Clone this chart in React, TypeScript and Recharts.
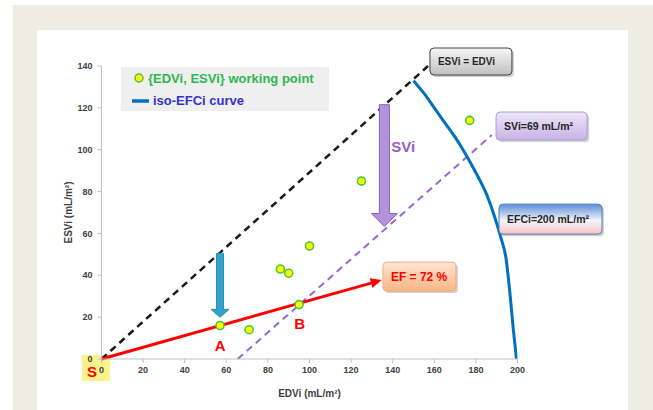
import React from "react";
import {
  ComposedChart,
  XAxis,
  YAxis,
  Line,
  Scatter,
  ReferenceLine,
  ReferenceDot,
  Label,
} from "recharts";

// working points {EDVi, ESVi}
const edvi = [57, 71, 95, 86, 90, 100, 125, 177];
const esvi = [16, 14, 26, 43, 41, 54, 85, 114];

// iso-EFCi curve (EFCi = 200 mL/m²)
const isoEdvi = [150, 155, 160, 165, 170, 175, 180, 185, 189, 192, 194.5, 196.5, 198, 199.5];
const isoEsvi = [133, 127, 120, 113, 106, 98, 89, 79, 68, 58, 48, 30, 14, 0];

const xTicks = [0, 20, 40, 60, 80, 100, 120, 140, 160, 180, 200];
const yTicks = [0, 20, 40, 60, 80, 100, 120, 140];

// straight guides, as [EDVi, ESVi] end points
const identityLine = [[0, 0], [157, 140]];
const sviLine = [[65.5, 0], [187.6, 107]];
const efLine = [[0, 0], [134.7, 37.7]];
const dropArrow = [[57, 50.5], [57, 19.9]];
const sviArrow = [[136, 121.5], [136, 63.3]];

const points = edvi.map((x, i) => ({ x, y: esvi[i] }));
const isoCurve = isoEdvi.map((x, i) => ({ x, y: isoEsvi[i] }));
const seg = (p: number[][]) => [
  { x: p[0][0], y: p[0][1] },
  { x: p[1][0], y: p[1][1] },
];

const FONT = '"Liberation Sans Narrow", "Liberation Sans", Arial, sans-serif';

const blockArrow = (fill: string, stroke: string, shaft: number, head: number, headLen: number) =>
  (p: any) => {
    const { x1, y1, y2 } = p;
    const hs = shaft / 2;
    const hh = head / 2;
    const yh = y2 - headLen;
    const pts = [
      [x1 - hs, y1], [x1 + hs, y1], [x1 + hs, yh], [x1 + hh, yh],
      [x1, y2], [x1 - hh, yh], [x1 - hs, yh],
    ].map((q) => q.join(",")).join(" ");
    return <polygon points={pts} fill={fill} stroke={stroke} strokeWidth={1} />;
  };

const redArrow = (p: any) => {
  const { x1, y1, x2, y2 } = p;
  const a = Math.atan2(y2 - y1, x2 - x1);
  const len = 11;
  const w = 5;
  const bx = x2 - len * Math.cos(a);
  const by = y2 - len * Math.sin(a);
  const nx = -Math.sin(a) * w;
  const ny = Math.cos(a) * w;
  return (
    <g>
      <line x1={x1} y1={y1} x2={bx} y2={by} stroke="#FF0000" strokeWidth={3} />
      <polygon points={`${x2},${y2} ${bx + nx},${by + ny} ${bx - nx},${by - ny}`} fill="#FF0000" />
    </g>
  );
};

const callout = (text: string, w: number, h: number, grad: string, stroke: string, color: string, size: number) =>
  (p: any) => {
    const { cx, cy } = p;
    return (
      <g>
        <rect x={cx + 2} y={cy + 2} width={w} height={h} rx={4} fill="rgba(0,0,0,0.18)" />
        <rect x={cx} y={cy} width={w} height={h} rx={4} fill={`url(#${grad})`} stroke={stroke} strokeWidth={1} />
        <text x={cx + 8} y={cy + h / 2} dy="0.35em" fontFamily={FONT} fontWeight="bold" fontSize={size} fill={color}>
          {text}
        </text>
      </g>
    );
  };

const word = (text: string, color: string, size: number) => (p: any) => (
  <text x={p.cx} y={p.cy} dy="0.35em" textAnchor="middle" fontFamily={FONT} fontWeight="bold" fontSize={size} fill={color}>
    {text}
  </text>
);

const LegendBox = () => (
  <svg width={208} height={44} style={{ position: "absolute", left: 121, top: 67, background: "#EFEFEF" }}>
    <circle cx={18} cy={11} r={4} fill="#FFFF00" stroke="#4CC43C" strokeWidth={1.5} />
    <text x={27} y={11} dy="0.35em" fill="#2DB84D" fontFamily={FONT} fontWeight="bold" fontSize={13}>
      {"{EDVi, ESVi} working point"}
    </text>
    <line x1={11} y1={34} x2={28} y2={34} stroke="#0070C0" strokeWidth={3.5} />
    <text x={32} y={33} dy="0.35em" fill="#3333CC" fontFamily={FONT} fontWeight="bold" fontSize={13}>
      iso-EFCi curve
    </text>
  </svg>
);

const tickStyle = { fontSize: 9, fontWeight: "bold" as const, fill: "#404040", fontFamily: FONT };

export default function App() {
  return (
    <div style={{ position: "absolute", left: 0, top: 0, width: 653, height: 410, background: "#FFFFFF", overflow: "hidden" }}>
      <div style={{ position: "absolute", left: 13, top: 5, width: 640, height: 405, background: "#EDEDE3" }} />
      <div style={{ position: "absolute", left: 37, top: 30, width: 591, height: 380, background: "#FFFFFF" }} />
      <div style={{ position: "absolute", left: 82, top: 355, width: 28, height: 26, background: "#FAF38C" }} />
      <LegendBox />
      <div style={{ position: "absolute", left: 0, top: 0 }}>
        <ComposedChart width={653} height={410} margin={{ top: 66, right: 135.5, bottom: 11, left: 56.5 }}>
          <defs>
            <linearGradient id="gGrey" x1="0" y1="0" x2="0" y2="1">
              <stop offset="0%" stopColor="#F7F7F7" />
              <stop offset="100%" stopColor="#C0C0C0" />
            </linearGradient>
            <linearGradient id="gPurple" x1="0" y1="0" x2="0" y2="1">
              <stop offset="0%" stopColor="#EFE7F8" />
              <stop offset="100%" stopColor="#C7B2E5" />
            </linearGradient>
            <linearGradient id="gEfci" x1="0" y1="0" x2="0" y2="1">
              <stop offset="0%" stopColor="#5B8ED6" />
              <stop offset="55%" stopColor="#F4F6FB" />
              <stop offset="100%" stopColor="#F7C3C3" />
            </linearGradient>
            <linearGradient id="gOrange" x1="0" y1="0" x2="0" y2="1">
              <stop offset="0%" stopColor="#FDE6D3" />
              <stop offset="100%" stopColor="#F8B584" />
            </linearGradient>
          </defs>
          <XAxis
            type="number"
            dataKey="x"
            domain={[0, 200]}
            ticks={xTicks}
            allowDataOverflow
            height={40}
            tickSize={4}
            tickMargin={4}
            stroke="#BFBFBF"
            tick={tickStyle}
          >
            <Label
              value="EDVi (mL/m²)"
              position="insideBottom"
              offset={2}
              style={{ fontSize: 10, fontWeight: "bold", fill: "#404040", fontFamily: FONT }}
            />
          </XAxis>
          <YAxis
            type="number"
            dataKey="y"
            domain={[0, 140]}
            ticks={yTicks}
            allowDataOverflow
            width={45}
            tickSize={4}
            tickMargin={5}
            stroke="#BFBFBF"
            tick={tickStyle}
          >
            <Label
              value="ESVi (mL/m²)"
              angle={-90}
              position="insideLeft"
              offset={11.5}
              style={{ fontSize: 10, fontWeight: "bold", fill: "#404040", fontFamily: FONT, textAnchor: "middle" }}
            />
          </YAxis>
          <ReferenceLine segment={seg(identityLine)} stroke="#1A1A1A" strokeWidth={2.5} strokeDasharray="7 5" ifOverflow="visible" />
          <ReferenceLine segment={seg(sviLine)} stroke="#9966CC" strokeWidth={2} strokeDasharray="7 5" ifOverflow="visible" />
          <ReferenceLine segment={seg(efLine)} ifOverflow="visible" shape={redArrow} />
          <ReferenceLine segment={seg(dropArrow)} ifOverflow="visible" shape={blockArrow("#31A3CC", "#2B8BB0", 7, 18, 8)} />
          <ReferenceLine segment={seg(sviArrow)} ifOverflow="visible" shape={blockArrow("#B294DD", "#8660BE", 10, 26, 13)} />
          <Line
            data={isoCurve}
            dataKey="y"
            type="monotone"
            stroke="#0070C0"
            strokeWidth={3}
            dot={false}
            isAnimationActive={false}
          />
          <Scatter
            data={points}
            dataKey="y"
            fill="#FFFF00"
            isAnimationActive={false}
            shape={(p: any) => <circle cx={p.cx} cy={p.cy} r={4} fill="#FFFF00" stroke="#4CC43C" strokeWidth={1.6} />}
          />
          <ReferenceDot x={157.9} y={148.6} ifOverflow="visible" shape={callout("ESVi = EDVi", 82, 27, "gGrey", "#404040", "#262626", 10)} />
          <ReferenceDot x={189.7} y={118} ifOverflow="visible" shape={callout("SVi=69 mL/m²", 91, 28, "gPurple", "#B49AD8", "#262626", 10.5)} />
          <ReferenceDot x={191.1} y={74} ifOverflow="visible" shape={callout("EFCi=200 mL/m²", 103, 30, "gEfci", "#4A7EBB", "#262626", 10.5)} />
          <ReferenceDot x={135.3} y={46.3} ifOverflow="visible" shape={callout("EF = 72 %", 73, 29, "gOrange", "#F2AE7C", "#FF0000", 12)} />
          <ReferenceDot x={145} y={101.3} ifOverflow="visible" shape={word("SVi", "#9B59C8", 15)} />
          <ReferenceDot x={57.1} y={6.2} ifOverflow="visible" shape={word("A", "#FF0000", 15)} />
          <ReferenceDot x={95.3} y={16.7} ifOverflow="visible" shape={word("B", "#FF0000", 15)} />
          <ReferenceDot x={-4.6} y={-6.2} ifOverflow="visible" shape={word("S", "#FF0000", 15)} />
        </ComposedChart>
      </div>
    </div>
  );
}
